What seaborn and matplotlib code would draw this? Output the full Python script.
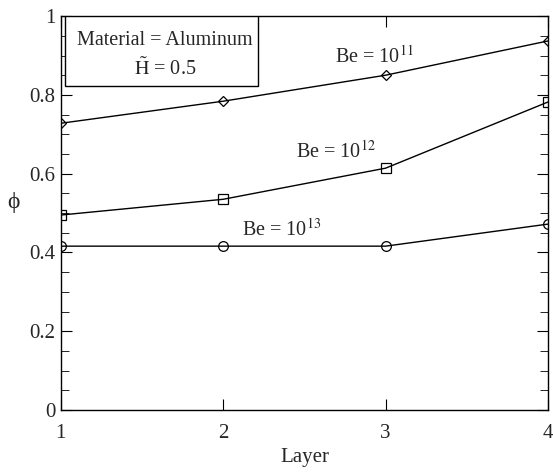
import pandas as pd
import seaborn as sns
import matplotlib.pyplot as plt
from matplotlib.patches import Rectangle
from matplotlib.ticker import MultipleLocator, FuncFormatter

# values
layers = [1, 2, 3, 4]
phi_be11 = [0.728, 0.784, 0.850, 0.937]
phi_be12 = [0.495, 0.535, 0.614, 0.782]
phi_be13 = [0.416, 0.416, 0.416, 0.472]

sns.set_style("ticks")
plt.rcParams['font.family'] = ['Liberation Serif', 'DejaVu Serif']
plt.rcParams['mathtext.fontset'] = 'stix'
plt.rcParams['font.size'] = 14.5

fig = plt.figure(figsize=(5.53, 4.74), dpi=100)
ax = fig.add_axes([0.110, 0.135, 0.881, 0.831])

series = [(phi_be11, 'D', 5), (phi_be12, 's', 7), (phi_be13, 'o', 7)]
for vals, mk, ms in series:
    sns.lineplot(x=layers, y=vals, ax=ax, color='black', linewidth=1,
                 marker=mk, markersize=ms, markerfacecolor='none',
                 markeredgecolor='black', markeredgewidth=0.9, zorder=3)

ax.set_xlim(1, 4)
ax.set_ylim(0, 1)
ax.set_xticks([1, 2, 3, 4])
ax.yaxis.set_major_locator(MultipleLocator(0.2))
ax.yaxis.set_minor_locator(MultipleLocator(0.05))
ax.yaxis.set_major_formatter(FuncFormatter(lambda v, p: f'{v:g}'))
ax.tick_params(which='both', direction='in', top=True, right=True,
               labelsize=15, color='black')
ax.tick_params(which='major', length=8)
ax.tick_params(which='minor', length=6)
ax.tick_params(axis='x', pad=10)
ax.tick_params(axis='y', pad=4)
for s in ax.spines.values():
    s.set_linewidth(1)
    s.set_color('black')

ax.set_xlabel('Layer', fontsize=15, labelpad=4)
ax.set_ylabel('ϕ', fontsize=17, rotation=0, labelpad=11)

ax.text(2.934, 0.883, r'Be = 10$^{11}$', fontsize=14.5, ha='center', va='baseline')
ax.text(2.694, 0.642, r'Be = 10$^{12}$', fontsize=14.5, ha='center', va='baseline')
ax.text(2.361, 0.442, r'Be = 10$^{13}$', fontsize=14.5, ha='center', va='baseline')

ax.add_patch(Rectangle((1.025, 0.822), 1.189, 0.178, facecolor='white',
                       edgecolor='black', linewidth=1, zorder=4))
ax.text(1.64, 0.939, 'Material = Aluminum', fontsize=14.5,
        ha='center', va='center', zorder=5)
ax.text(1.64, 0.866, r'$\tilde{\mathrm{H}}$ = 0.5', fontsize=14.5,
        ha='center', va='center', zorder=5)

plt.savefig('out.png', dpi=100)
